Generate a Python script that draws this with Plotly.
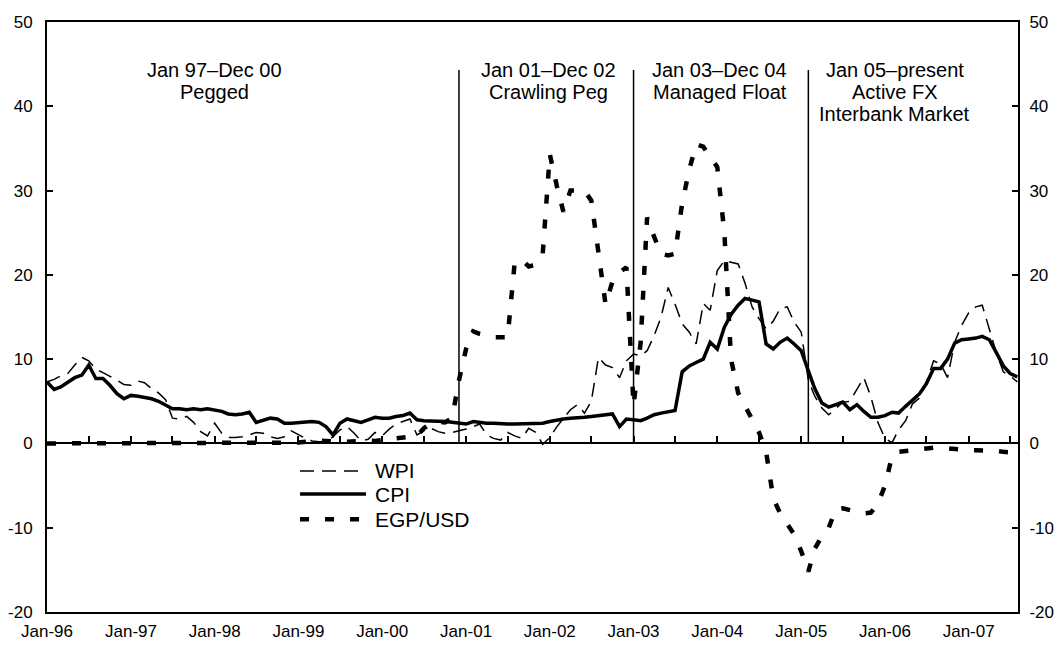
import pandas as pd
import plotly.graph_objects as go

# monthly observations, Jan-96 .. Aug-07
months = pd.date_range("1996-01-01", periods=140, freq="MS")

cpi = [7.3, 6.4, 6.7, 7.2, 7.8, 8.1, 9.3, 7.7, 7.7, 6.9,
       5.9, 5.3, 5.7, 5.6, 5.5, 5.3, 5.0, 4.6, 4.1, 4.1,
       4.0, 4.1, 4.0, 4.1, 4.0, 3.8, 3.5, 3.4, 3.5, 3.7,
       2.5, 2.7, 3.0, 2.9, 2.4, 2.4, 2.5, 2.5, 2.6, 2.5,
       2.0, 1.0, 2.4, 2.9, 2.7, 2.5, 2.8, 3.1, 3.0, 3.0,
       3.2, 3.3, 3.6, 2.8, 2.7, 2.7, 2.7, 2.6, 2.5, 2.4,
       2.3, 2.6, 2.5, 2.4, 2.4, 2.3, 2.3, 2.3, 2.3, 2.3,
       2.4, 2.4, 2.6, 2.8, 2.9, 3.0, 3.0, 3.1, 3.2, 3.3,
       3.4, 3.5, 2.0, 2.9, 2.8, 2.7, 3.0, 3.4, 3.6, 3.8,
       3.9, 8.5, 9.2, 9.6, 10.0, 12.0, 11.2, 13.8, 15.3, 16.4,
       17.2, 17.0, 16.8, 11.8, 11.2, 12.0, 12.5, 11.8, 11.0, 8.6,
       6.5, 4.8, 4.3, 4.6, 4.9, 4.0, 4.6, 3.8, 3.1, 3.1,
       3.3, 3.7, 3.6, 4.4, 5.1, 5.9, 7.1, 8.9, 8.9, 10.0,
       11.9, 12.3, 12.4, 12.5, 12.7, 12.3, 10.8, 9.2, 8.3, 7.9]

wpi = [7.3, 7.6, 8.0, 8.3, 9.3, 10.2, 9.8, 8.8, 8.4, 8.0,
       7.5, 7.0, 6.9, 7.4, 7.2, 6.5, 6.0, 5.2, 3.0, 2.9,
       3.2, 2.5, 1.4, 0.9, 2.4, 1.2, 0.7, 0.7, 0.8, 1.0,
       1.3, 1.2, 0.8, 0.6, 0.8, 1.5, 1.0, 0.6, 0.3, 0.2,
       0.2, 0.8, 1.6, 2.0, 1.2, 0.3, 0.5, 1.3, 0.9, 1.7,
       2.3, 2.6, 2.9, 1.0, 1.5, 1.8, 1.4, 1.2, 1.3, 1.5,
       1.7, 2.0, 2.3, 1.0, 0.6, 0.4, 1.3, 0.9, 0.6, 1.8,
       1.3, -0.1, 0.7, 2.0, 3.0, 4.0, 4.6, 3.6, 5.0, 10.2,
       9.3, 9.0, 7.8, 9.8, 10.6, 10.4, 11.0, 12.8, 15.0, 18.5,
       16.5, 14.2, 13.2, 11.8, 16.6, 15.8, 20.5, 21.7, 21.5, 21.3,
       19.0, 16.2, 14.8, 13.6, 14.5, 16.0, 16.2, 14.4, 13.2, 7.5,
       5.6, 4.2, 3.4, 4.2, 4.9, 5.0, 6.5, 7.8, 5.5, 2.5,
       0.6, 0.1, 1.6, 2.7, 4.7, 5.4, 7.3, 9.8, 9.4, 7.8,
       12.0, 14.0, 15.5, 16.2, 16.4, 13.6, 10.8, 8.5, 8.0, 7.3]

egp = [0.0] * 36 + [
       0.1, 0.2, 0.3, 0.35,
       0.3, 0.2, 0.2, 0.2, 0.2, 0.3, 0.35, 0.3, 0.4, 0.5,
       0.6, 0.6, 0.7, 0.9, 1.8, 2.4, 2.6, 2.5, 3.0, 7.5,
       11.2, 13.3, 13.0, 12.8, 12.6, 12.6, 12.6, 21.5, 21.8, 21.0,
       21.2, 22.5, 34.3, 30.5, 27.5, 30.0, 30.0, 30.0, 28.8, 22.8,
       16.5, 19.2, 20.3, 20.9, 4.5, 12.0, 26.8, 24.5, 22.5, 22.3,
       22.5, 28.5, 32.5, 35.5, 35.2, 34.0, 32.8, 25.0, 10.0, 6.0,
       4.5, 3.0, 1.3, -1.0, -6.5, -8.3, -9.5, -10.8, -12.8, -15.2,
       -12.5, -11.0, -10.0, -7.8, -7.7, -7.9, -8.1, -8.3, -8.2, -7.2,
       -5.0, -1.5, -1.0, -0.9, -0.8, -0.6, -0.5, -0.5, -0.5, -0.6,
       -0.6, -0.7, -0.8, -0.8, -0.8, -0.9, -0.9, -1.0, -1.1, -1.1]

y_ticks = [-20, -10, 0, 10, 20, 30, 40, 50]
y_tick_text = ["-20", "-10", "0", "10", "20", "30", "40", "50"]

regime_breaks = ["2000-12-01", "2003-01-01", "2005-02-01"]
regime_lines = [["Jan 97\u2013Dec 00", "Pegged"],
                ["Jan 01\u2013Dec 02", "Crawling Peg"],
                ["Jan 03\u2013Dec 04", "Managed Float"],
                ["Jan 05\u2013present", "Active FX", "Interbank Market"]]
regime_text_x = [0.173, 0.516, 0.693, 0.873]

series_names = ["WPI", "CPI", "EGP/USD"]
series_styles = [dict(width=1.5, dash="14px,8px"),
                 dict(width=3.5, dash="solid"),
                 dict(width=4.5, dash="9px,16px")]

FONT = "Liberation Sans, Arial, sans-serif"
x_range = ["1996-01-01", "2007-08-04"]

fig = go.Figure()
for name, vals, st in zip(series_names, [wpi, cpi, egp], series_styles):
    fig.add_trace(go.Scatter(x=months, y=vals, name=name, mode="lines",
                             showlegend=False,
                             line=dict(color="black", **st)))
# hidden copy so the right axis and the zero-line axis get drawn
fig.add_trace(go.Scatter(x=months, y=cpi, xaxis="x2", yaxis="y2", mode="lines",
                         line=dict(width=0), opacity=0, showlegend=False,
                         hoverinfo="skip"))

for d in regime_breaks:
    fig.add_shape(type="line", xref="x", yref="y", x0=d, x1=d, y0=0, y1=44.3,
                  line=dict(color="black", width=1.5))

for lines, x in zip(regime_lines, regime_text_x):
    for i, t in enumerate(lines):
        fig.add_annotation(text=t, xref="paper", yref="paper", x=x,
                           y=0.9186 - i * 0.0373, xanchor="center",
                           yanchor="middle", showarrow=False,
                           font=dict(size=20, color="black", family=FONT))

# legend block below the zero line
legend_y = [0.239, 0.200, 0.157]
for name, st, ly in zip(series_names, series_styles, legend_y):
    fig.add_shape(type="line", xref="paper", yref="paper", x0=0.2606,
                  x1=0.3285 if st["dash"] == "solid" else 0.3275, y0=ly, y1=ly,
                  line=dict(color="black", **st))
    fig.add_annotation(text=name, xref="paper", yref="paper", x=0.3357, y=ly,
                       xanchor="left", yanchor="middle", showarrow=False,
                       font=dict(size=21, color="black", family=FONT))

axis_common = dict(showgrid=False, zeroline=False, showline=True,
                   linecolor="black", linewidth=2, automargin=False)

fig.update_layout(
    width=1058, height=648,
    margin=dict(l=47, r=40, t=22, b=36),
    paper_bgcolor="white", plot_bgcolor="white",
    font=dict(family=FONT, size=17, color="black"),
    xaxis=dict(type="date", range=x_range, tick0="1996-01-01", dtick="M12",
               tickformat="%b-%y", ticks="", mirror=True, ticklabelstandoff=3,
               **axis_common),
    xaxis2=dict(type="date", range=x_range, overlaying="x", anchor="free",
                position=20 / 70, tick0="1996-01-01", dtick="M6",
                ticks="inside", ticklen=6, tickwidth=1.5, tickcolor="black",
                showticklabels=False, **axis_common),
    yaxis=dict(range=[-20, 50], tickvals=y_ticks, ticktext=y_tick_text,
               ticks="inside", ticklen=6, tickwidth=1.5, tickcolor="black",
               ticklabelstandoff=9, **axis_common),
    yaxis2=dict(range=[-20, 50], tickvals=y_ticks, ticktext=y_tick_text,
                overlaying="y", side="right", anchor="x", ticks="inside",
                ticklen=6, tickwidth=1.5, tickcolor="black",
                ticklabelstandoff=6, **axis_common),
    showlegend=False,
)

# page without the default body margin so the figure fills the window
fig.write_html("out.html", config={"displayModeBar": False},
               post_script="document.body.style.margin='0';"
                           "document.body.style.overflow='hidden';")
